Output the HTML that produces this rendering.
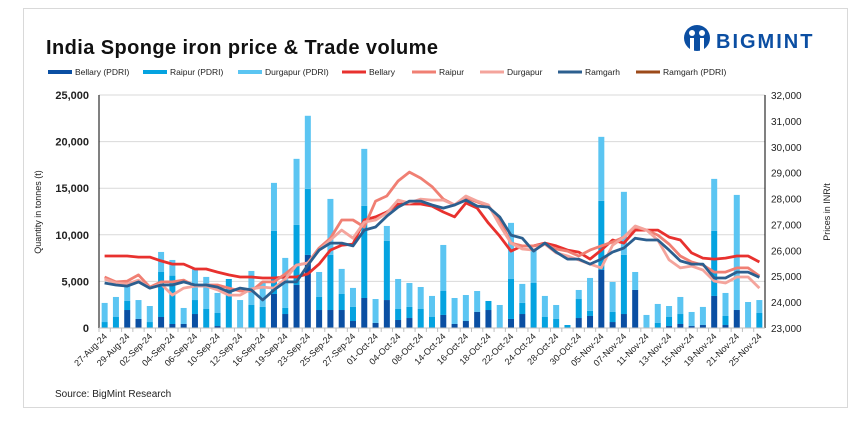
<!DOCTYPE html>
<html><head><meta charset="utf-8"><style>
body{margin:0;background:#fff;width:866px;height:428px;overflow:hidden;font-family:"Liberation Sans",sans-serif}
#frame{position:absolute;left:23px;top:8px;width:823px;height:398px;border:1px solid #d9d9d9;background:#fff}
</style></head><body>
<div id="frame"></div>
<svg id="chart" width="866" height="428" style="position:absolute;left:0;top:0"></svg>
<script>
const categories=["27-Aug-24","","29-Aug-24","","02-Sep-24","","04-Sep-24","","06-Sep-24","","10-Sep-24","","12-Sep-24","","16-Sep-24","","19-Sep-24","","23-Sep-24","","25-Sep-24","","27-Sep-24","","01-Oct-24","","04-Oct-24","","08-Oct-24","","14-Oct-24","","16-Oct-24","","18-Oct-24","","22-Oct-24","","24-Oct-24","","28-Oct-24","","30-Oct-24","","05-Nov-24","","07-Nov-24","","11-Nov-24","","13-Nov-24","","15-Nov-24","","19-Nov-24","","21-Nov-24","","25-Nov-24"];
const bellaryVol=[0,0,1930,970,0,1180,430,430,1500,0,210,0,0,0,0,3650,1500,4620,7840,1930,1930,1930,750,3220,540,3000,860,1070,0,0,1400,430,750,1720,1930,0,970,1500,0,0,0,0,1070,1290,6230,640,1500,4080,0,0,210,430,210,320,3440,320,1930,0,0];
const raipurVol=[640,1180,970,0,640,4830,5190,0,1500,2040,1400,5260,0,2470,2260,6770,650,6440,7090,1400,5910,1720,1510,9880,0,6340,1180,1190,2040,1180,2570,0,0,0,970,0,4290,1190,4830,1180,970,320,2040,540,7410,1080,6340,0,0,540,970,1070,0,0,6980,970,0,0,1610];
const durgapurVol=[2050,2150,1650,2030,1720,2150,1680,1720,3340,3440,2150,0,3000,3650,2680,5150,5370,7090,7840,2680,6010,2690,2040,6120,2570,1610,3220,2570,2360,2260,4940,2790,2790,2250,0,2470,6020,2040,3440,2260,1500,0,970,3540,6870,3220,6770,1930,1400,2040,1180,1830,1510,1940,5580,2470,12350,2790,1390];
const bellaryPrice=[25780,25780,25780,25740,25740,25590,25470,25470,25280,25280,25160,25050,24970,24970,24930,24930,24970,24970,25090,25470,26010,26200,26240,27170,27290,27480,27790,27790,27790,27710,27480,27290,27830,27630,27050,26550,25970,26170,26170,26280,26170,26010,25930,25660,26010,26400,26280,26780,26780,26780,26510,26400,25900,25700,25660,25700,25780,25780,25550];
const raipurPrice=[24970,24780,24810,25050,24580,24780,24780,24850,24620,24660,24660,24540,24430,24430,24780,24780,25090,25430,25510,26090,26470,27170,27170,26900,27900,28100,28680,29020,28790,28460,27980,27750,28020,27870,27710,27170,26280,26170,26170,26240,26050,25970,25780,26010,26170,26320,26510,26900,26780,26590,26240,25780,25550,25430,25160,25160,25320,25320,25010];
const durgapurPrice=[24890,24740,24700,24850,24540,24700,24270,24540,24620,24620,24470,24270,24270,24510,24580,24540,24890,25430,25510,26010,26400,26780,26470,27090,27170,27440,27940,27830,27980,27940,27940,27750,28100,27900,27750,26980,26280,26050,26010,26240,25900,25780,25630,25470,25320,26200,26510,26940,26780,26400,25630,25320,25390,25240,24810,24740,24970,24970,24540];
const ramgarhPrice=[24740,24660,24620,24780,24540,24660,24660,24780,24660,24660,24580,24390,24540,24470,24080,24470,24780,24780,25430,26010,26280,26280,26170,26780,26900,27320,27670,27900,27900,27750,27630,27750,27940,27710,27670,27290,26590,26470,25970,26280,25930,25660,25660,25470,25660,25930,26090,26470,26400,26400,26010,25590,25470,25470,24930,24930,25160,25160,24960];
const leftTicks=[0,5000,10000,15000,20000,25000];
const leftTickLabels=["0","5,000","10,000","15,000","20,000","25,000"];
const rightTicks=[23000,24000,25000,26000,27000,28000,29000,30000,31000,32000];
const rightTickLabels=["23,000","24,000","25,000","26,000","27,000","28,000","29,000","30,000","31,000","32,000"];

const NS="http://www.w3.org/2000/svg";
const svg=document.getElementById('chart');
const L=99,R=765,T=95,B=328;
const band=(R-L)/categories.length;
const xc=i=>L+(i+0.5)*band;
const yl=v=>B-(v/25000)*(B-T);
const yr=v=>B-((v-23000)/9000)*(B-T);
function mk(tag,attrs,parent){const e=document.createElementNS(NS,tag);for(const k in attrs)e.setAttribute(k,attrs[k]);(parent||svg).appendChild(e);return e;}

// gridlines and left ticks
leftTicks.forEach((v,i)=>{
  const g=mk('line',{x1:L,x2:R,y1:yl(v),y2:yl(v),stroke:'#d9d9d9','stroke-width':1});
  
  
  const t=mk('text',{x:89,y:yl(v)+4,'text-anchor':'end','font-size':11,'font-weight':'bold',fill:'#222'});
  t.textContent=leftTickLabels[i];
  
  
});
rightTicks.forEach((v,i)=>{
  const t=mk('text',{x:771,y:yr(v)+4,'font-size':10,fill:'#222'});
  t.textContent=rightTickLabels[i];
  
  
});
// bars
const bw=6;
categories.forEach((c,i)=>{
  let base=0;
  [[bellaryVol,'#0a4fa3','bar-bellary'],[raipurVol,'#05a3e0','bar-raipur'],[durgapurVol,'#5bc5f2','bar-durgapur']].forEach(([arr,col,nm])=>{
    const v=arr[i];
    if(v>0){
      const r=mk('rect',{x:xc(i)-bw/2,y:yl(base+v),width:bw,height:yl(base)-yl(base+v),fill:col});
      
      
    }
    base+=v;
  });
});
// lines
[[bellaryPrice,'#e8312e','line-bellary',2.8],[raipurPrice,'#f07f73','line-raipur',2.8],[durgapurPrice,'#f4a49c','line-durgapur',2.8],[ramgarhPrice,'#2c5f8f','line-ramgarh',2.8]].forEach(([arr,col,nm,w])=>{
  const p=mk('polyline',{points:arr.map((v,i)=>xc(i).toFixed(1)+','+yr(v).toFixed(1)).join(' '),fill:'none',stroke:col,'stroke-width':w,'stroke-linejoin':'round'});
  
  
});
// axes
let a=mk('line',{x1:L,x2:L,y1:T,y2:B,stroke:'#000','stroke-width':1});


a=mk('line',{x1:R,x2:R,y1:T,y2:B,stroke:'#000','stroke-width':1});


a=mk('line',{x1:L,x2:R,y1:B,y2:B,stroke:'#bfbfbf','stroke-width':1});


categories.forEach((c,i)=>{
  const tk=mk('line',{x1:L+i*band,x2:L+i*band,y1:B,y2:B+4,stroke:'#bfbfbf'});
  
  
  if(c){
    const t=mk('text',{x:xc(i)+3,y:B+9,'text-anchor':'end','font-size':9,fill:'#222',transform:`rotate(-45 ${xc(i)+3} ${B+9})`});
    t.textContent=c;
    
    
  }
});
// axis titles
let at=mk('text',{x:41,y:212,'text-anchor':'middle','font-size':9,fill:'#222',transform:'rotate(-90 41 212)'});
at.textContent='Quantity in tonnes (t)';


at=mk('text',{x:830,y:212,'text-anchor':'middle','font-size':9,fill:'#222',transform:'rotate(-90 830 212)'});
at.textContent='Prices in INR/t';


// title
let tt=mk('text',{x:46,y:54,'font-size':20,'font-weight':'bold',fill:'#111','textLength':392});
tt.textContent='India Sponge iron price & Trade volume';


// logo
const lg=mk('g',{});


mk('circle',{cx:697,cy:38,r:13,fill:'#0b4ea2'},lg);
mk('circle',{cx:692,cy:33,r:3,fill:'#fff'},lg);
mk('circle',{cx:702,cy:33,r:3,fill:'#fff'},lg);
mk('rect',{x:690,y:38,width:4,height:14,fill:'#fff'},lg);
mk('rect',{x:700,y:38,width:4,height:14,fill:'#fff'},lg);
let lt=mk('text',{x:716,y:48,'font-size':20,'font-weight':'bold',fill:'#0b4ea2','letter-spacing':2},lg);
lt.textContent='BIGMINT';
// legend
const legend=[['Bellary (PDRI)','#0a4fa3',48,'rect'],['Raipur (PDRI)','#05a3e0',143,'rect'],['Durgapur (PDRI)','#5bc5f2',238,'rect'],['Bellary','#e8312e',342,'line'],['Raipur','#f07f73',412,'line'],['Durgapur','#f4a49c',480,'line'],['Ramgarh','#2c5f8f',558,'line'],['Ramgarh (PDRI)','#9c4a1a',636,'line']];
legend.forEach(([n,c,x,k])=>{
  const g=mk('g',{});
  
  
  if(k==='rect')mk('rect',{x:x,y:70,width:24,height:4,fill:c},g);
  else mk('line',{x1:x,x2:x+24,y1:72,y2:72,stroke:c,'stroke-width':3},g);
  const t=mk('text',{x:x+27,y:75,'font-size':8.5,fill:'#222'},g);
  t.textContent=n;
});
let src=mk('text',{x:55,y:397,'font-size':10,fill:'#222'});
src.textContent='Source: BigMint Research';


</script>
</body></html>
